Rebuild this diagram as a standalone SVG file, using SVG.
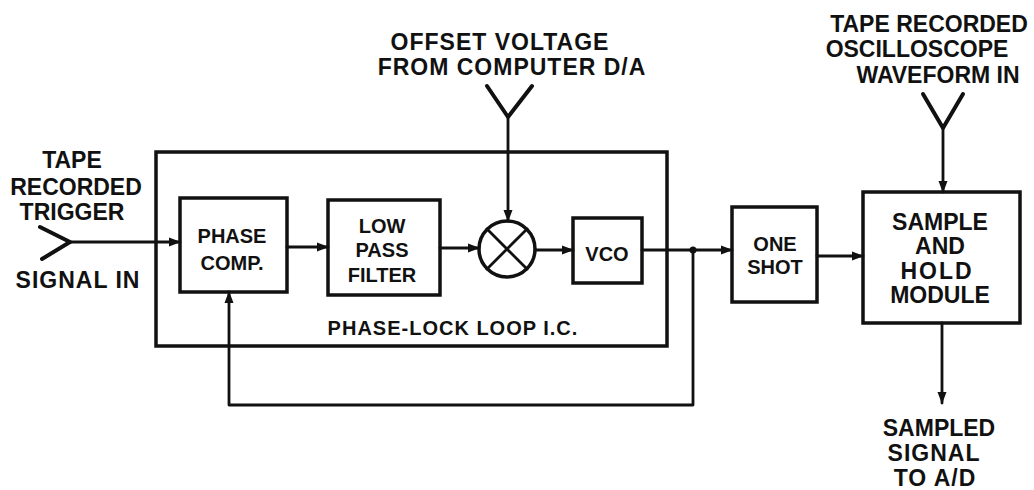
<svg xmlns="http://www.w3.org/2000/svg" width="1034" height="490" viewBox="0 0 1034 490">
<style>
.box{fill:none;stroke:#111;stroke-width:3.5}
.ln{fill:none;stroke:#111;stroke-width:2.8;stroke-linecap:round;stroke-linejoin:round}
.ant{fill:none;stroke:#111;stroke-width:4;stroke-linecap:round;stroke-linejoin:round}
text{font-family:"Liberation Sans",Arial,sans-serif;font-weight:bold;fill:#111;text-anchor:middle}
.lb{font-size:23px}
.bx{font-size:20px}
.bg{font-size:23px}
</style>
<defs>
<marker id="ah" markerWidth="12" markerHeight="10" refX="11" refY="5" orient="auto" markerUnits="userSpaceOnUse">
<path d="M0,0.5 L12,5 L0,9.5 Z" fill="#111"/>
</marker>
</defs>
<rect width="1034" height="490" fill="#fff"/>

<g id="pll">
<rect class="box" x="156" y="152" width="511" height="194"/>
<text class="bx" x="453" y="335" letter-spacing="1">PHASE-LOCK LOOP I.C.</text>
</g>
<g id="phasecomp">
<rect class="box" x="180" y="198" width="107" height="94"/>
<text class="bx" x="232" y="243">PHASE</text>
<text class="bx" x="232" y="270">COMP.</text>
</g>
<g id="lpf">
<rect class="box" x="328" y="200" width="112" height="95"/>
<text class="bx" x="382" y="233">LOW</text>
<text class="bx" x="382" y="257">PASS</text>
<text class="bx" x="382" y="282">FILTER</text>
</g>
<g id="mixer">
<circle cx="507" cy="249" r="28" fill="none" stroke="#111" stroke-width="3.5"/>
<path class="ln" d="M487,229 L527,269 M527,229 L487,269"/>
</g>
<g id="vco">
<rect class="box" x="573" y="218" width="69" height="65"/>
<text class="bx" x="607" y="261">VCO</text>
</g>
<g id="oneshot">
<rect class="box" x="732" y="207" width="85" height="95"/>
<text class="bx" x="775" y="251" font-size="21">ONE</text>
<text class="bx" x="775" y="274" font-size="21">SHOT</text>
</g>
<g id="samplehold">
<rect class="box" x="863" y="192" width="157" height="131"/>
<text class="bg" x="940" y="230">SAMPLE</text>
<text class="bg" x="940" y="254">AND</text>
<text class="bg" x="937" y="279" letter-spacing="2">HOLD</text>
<text class="bg" x="940" y="303">MODULE</text>
</g>
<g id="trigger-in">
<path class="ant" d="M40,227 L70,242 L42,259"/>
<text class="lb" x="72" y="168">TAPE</text>
<text class="lb" x="76" y="195" font-size="22">RECORDED</text>
<text class="lb" x="72" y="220" font-size="22">TRIGGER</text>
<text class="lb" x="78" y="288" font-size="22" letter-spacing="1">SIGNAL IN</text>
</g>
<g id="offset-in">
<path class="ant" d="M487,86 L508,117 L532,86"/>
<text class="lb" x="500" y="50" letter-spacing="1">OFFSET VOLTAGE</text>
<text class="lb" x="512" y="75" letter-spacing="1">FROM COMPUTER D/A</text>
</g>
<g id="waveform-in">
<path class="ant" d="M923,94 L943,128 L963,94"/>
<text class="lb" x="929" y="32">TAPE RECORDED</text>
<text class="lb" x="917" y="57">OSCILLOSCOPE</text>
<text class="lb" x="938" y="83">WAVEFORM IN</text>
</g>
<g id="output">
<text class="lb" x="939" y="436" font-size="21">SAMPLED</text>
<text class="lb" x="934" y="461" font-size="21" letter-spacing="1">SIGNAL</text>
<text class="lb" x="935" y="486" font-size="21" letter-spacing="1">TO A/D</text>
</g>

<g id="connectors">
<path class="ln" d="M70,242 L180,242" marker-end="url(#ah)"/>
<path class="ln" d="M287,247 L328,247" marker-end="url(#ah)"/>
<path class="ln" d="M440,248 L479,248" marker-end="url(#ah)"/>
<path class="ln" d="M535,250 L573,250" marker-end="url(#ah)"/>
<path class="ln" d="M508,117 L508,221" marker-end="url(#ah)"/>
<path class="ln" d="M642,250 L732,250" marker-end="url(#ah)"/>
<circle cx="693" cy="250" r="3.5" fill="#111"/>
<path class="ln" d="M693,250 L693,405 L229,405 L229,292" marker-end="url(#ah)"/>
<path class="ln" d="M817,256 L863,256" marker-end="url(#ah)"/>
<path class="ln" d="M943,128 L943,192" marker-end="url(#ah)"/>
<path class="ln" d="M942,323 L942,403" marker-end="url(#ah)"/>
</g>
</svg>
